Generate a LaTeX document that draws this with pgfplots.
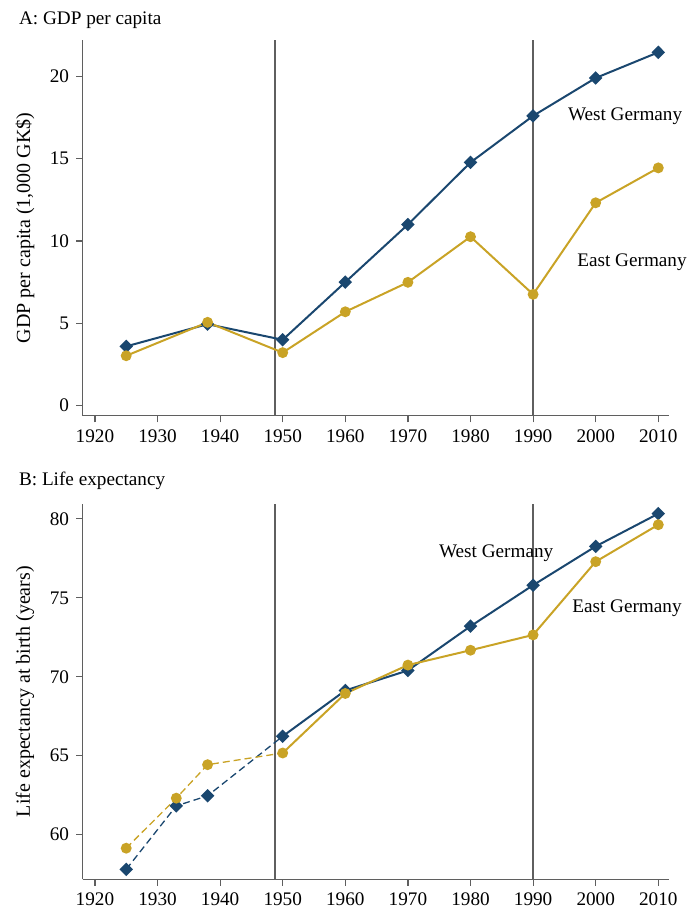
\documentclass[border=0pt]{standalone}
\usepackage{fontspec}
\setmainfont{Liberation Serif}
\usepackage{pgfplots}
\pgfplotsset{compat=1.18}
\definecolor{westc}{RGB}{26,71,111}
\definecolor{eastc}{RGB}{201,163,38}
\definecolor{axgray}{RGB}{95,95,95}
\newcommand\fs{\fontsize{9.6}{11.5}\selectfont}
\pgfplotsset{panel/.style={
  width=293.3pt, height=187.7pt, scale only axis,
  xmin=1918.05, xmax=2011.76,
  axis lines=left, axis line style={-, axgray, line width=0.6pt},
  xtick={1920,1930,...,2010},
  tick align=outside, major tick length=3.3pt,
  tick style={axgray, line width=0.6pt},
  /pgf/number format/1000 sep={},
  /pgf/number format/assume math mode=true,
  ticklabel style={font=\fs},
  label style={font=\fs},
  every axis y label/.style={at={(axis description cs:-0.0984,0.5)}, rotate=90, anchor=center},
  clip=false,
}}
\pgfplotsset{
  west/.style={westc, line width=1pt, mark=diamond*, mark size=2.67pt, mark options={solid, line width=1pt, xscale=1.333}},
  east/.style={eastc, line width=1pt, mark=*, mark size=2.2pt, mark options={solid, line width=1pt}},
}
\begin{document}
\begin{tikzpicture}
\useasboundingbox (0,0) rectangle (346pt,454pt);
\node[anchor=base west, font=\fs] at (6pt,441.85pt) {A: GDP per capita};
\node[anchor=base west, font=\fs] at (6pt,211.15pt) {B: Life expectancy};
\begin{axis}[panel, at={(41.35pt,246.15pt)}, anchor=south west,
  ymin=-0.61, ymax=22.19, ytick={0,5,10,15,20},
  ylabel={GDP per capita (1,000 GK\$)}]
\addplot[axgray, line width=0.8pt] coordinates {(1948.8,-0.61) (1948.8,22.19)};
\addplot[axgray, line width=0.8pt] coordinates {(1990,-0.61) (1990,22.19)};
\addplot[west] coordinates {
(1925,3.6) (1938,4.95) (1950,4.0) (1960,7.5) (1970,11.0) (1980,14.77) (1990,17.6) (2000,19.9) (2010,21.46)};
\addplot[east] coordinates {
(1925,3.03) (1938,5.06) (1950,3.22) (1960,5.70) (1970,7.49) (1980,10.26) (1990,6.76) (2000,12.32) (2010,14.44)};
\node[font=\fs] at (axis cs:2004.7,17.58) {West Germany};
\node[font=\fs] at (axis cs:2005.8,8.72) {East Germany};
\end{axis}
\begin{axis}[panel, at={(41.35pt,14.35pt)}, anchor=south west,
  ymin=57.17, ymax=80.95, ytick={60,65,70,75,80},
  ylabel={Life expectancy at birth (years)}]
\addplot[axgray, line width=0.8pt] coordinates {(1948.8,57.17) (1948.8,80.95)};
\addplot[axgray, line width=0.8pt] coordinates {(1990,57.17) (1990,80.95)};
\addplot[westc, line width=0.65pt, dash pattern=on 3.5pt off 2pt, mark=none] coordinates {
(1925,57.8) (1933,61.82) (1938,62.46) (1950,66.23)};
\addplot[west, only marks] coordinates {
(1925,57.8) (1933,61.82) (1938,62.46)};
\addplot[west] coordinates {
(1950,66.23) (1960,69.13) (1970,70.4) (1980,73.2) (1990,75.8) (2000,78.26) (2010,80.33)};
\addplot[eastc, line width=0.65pt, dash pattern=on 3.5pt off 2pt, mark=none] coordinates {
(1925,59.14) (1933,62.31) (1938,64.43) (1950,65.17)};
\addplot[east, only marks] coordinates {
(1925,59.14) (1933,62.31) (1938,64.43)};
\addplot[east] coordinates {
(1950,65.17) (1960,68.94) (1970,70.74) (1980,71.68) (1990,72.65) (2000,77.29) (2010,79.63)};
\node[font=\fs] at (axis cs:1984.1,77.83) {West Germany};
\node[font=\fs] at (axis cs:2005.0,74.34) {East Germany};
\end{axis}
\end{tikzpicture}
\end{document}
